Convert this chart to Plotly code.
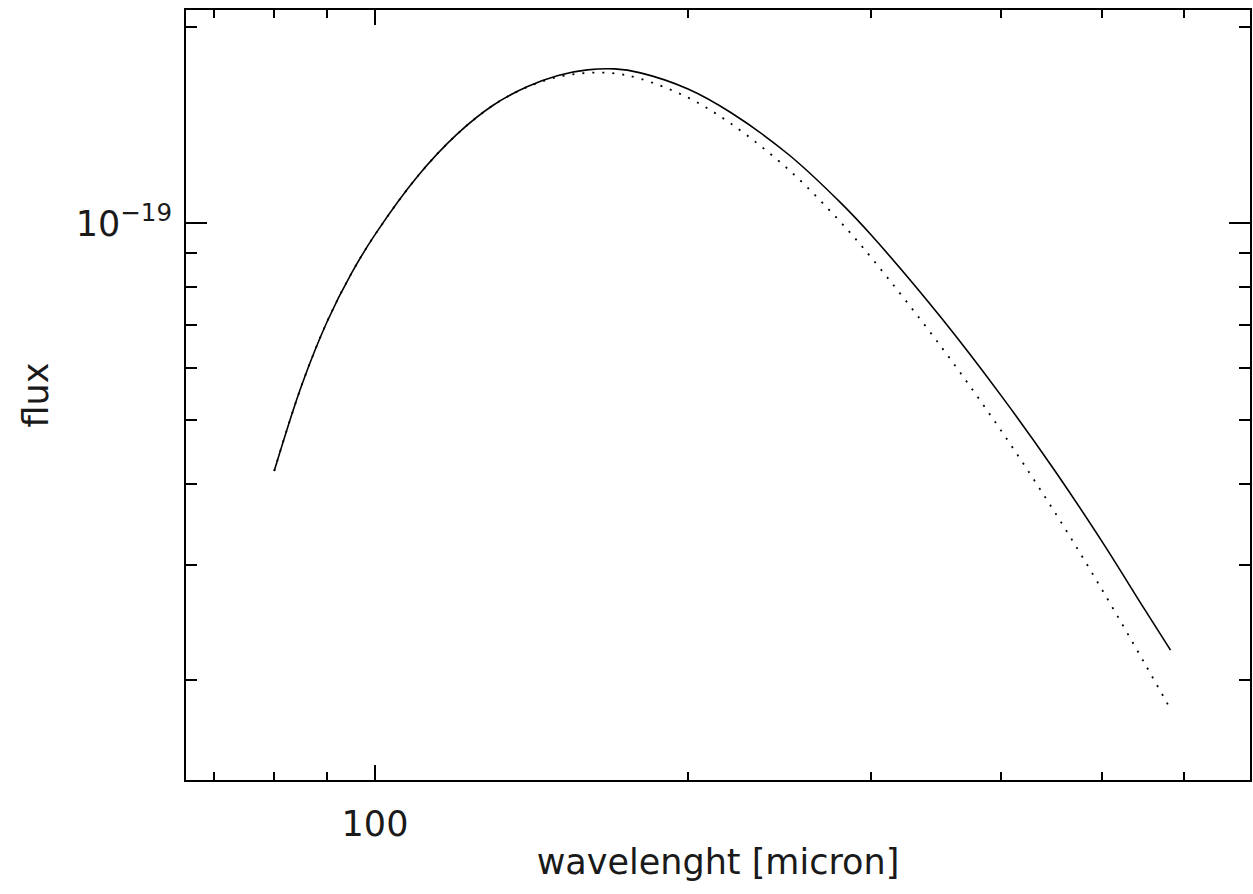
import plotly.graph_objects as go

# wavelength [micron]
wavelength = [80, 85, 90, 95, 100, 110, 120, 130, 140, 150, 160, 170, 180,
              200, 220, 250, 280, 300, 350, 400, 450, 500, 550, 582]

# solid curve
flux_solid = [4.180e-20, 5.650e-20, 7.092e-20, 8.408e-20, 9.613e-20, 1.183e-19,
              1.371e-19, 1.518e-19, 1.619e-19, 1.685e-19, 1.718e-19, 1.724e-19,
              1.700e-19, 1.606e-19, 1.477e-19, 1.274e-19, 1.078e-19, 9.600e-20,
              7.185e-20, 5.452e-20, 4.195e-20, 3.262e-20, 2.562e-20, 2.224e-20]

# dotted curve
flux_dotted = [4.180e-20, 5.650e-20, 7.092e-20, 8.408e-20, 9.613e-20, 1.183e-19,
               1.371e-19, 1.518e-19, 1.617e-19, 1.676e-19, 1.700e-19, 1.697e-19,
               1.665e-19, 1.558e-19, 1.421e-19, 1.208e-19, 1.007e-19, 8.868e-20,
               6.487e-20, 4.818e-20, 3.624e-20, 2.753e-20, 2.118e-20, 1.806e-20]

x_major = [100]
x_major_text = ["100"]
x_minor = [70, 80, 90, 200, 300, 400, 500, 600]
y_major = [1e-19]
y_major_text = ["10<sup>\u221219</sup>"]
y_minor = [2e-20, 3e-20, 4e-20, 5e-20, 6e-20, 7e-20, 8e-20, 9e-20, 2e-19]

FONT = dict(family="DejaVu Sans, sans-serif", size=35, color="#1a1a1a")

fig = go.Figure()
fig.add_trace(go.Scatter(x=wavelength, y=flux_solid, mode="lines",
                         line=dict(color="black", width=1.6, shape="spline", smoothing=1.0),
                         showlegend=False, hoverinfo="skip"))
fig.add_trace(go.Scatter(x=wavelength, y=flux_dotted, mode="lines",
                         line=dict(color="black", width=1.8, dash="2px,8px",
                                   shape="spline", smoothing=1.0),
                         showlegend=False, hoverinfo="skip"))

axis_common = dict(showline=True, linewidth=2, linecolor="black", mirror="allticks",
                   ticks="inside", tickwidth=2, tickcolor="black",
                   showgrid=False, zeroline=False, tickfont=FONT)

fig.update_xaxes(type="log", range=[1.81827, 2.84135],
                 tickmode="array", tickvals=x_major, ticktext=x_major_text, ticklen=15,
                 ticklabelstandoff=12,
                 minor=dict(tickmode="array", tickvals=x_minor, ticks="inside", ticklen=8,
                            tickwidth=2, tickcolor="black", showgrid=False),
                 title=dict(text="wavelenght [micron]", font=FONT, standoff=6),
                 **axis_common)
fig.update_yaxes(type="log", range=[-19.8517, -18.6733],
                 tickmode="array", tickvals=y_major, ticktext=y_major_text, ticklen=21,
                 ticklabelstandoff=5,
                 minor=dict(tickmode="array", tickvals=y_minor, ticks="inside", ticklen=11,
                            tickwidth=2, tickcolor="black", showgrid=False),
                 title=dict(text="flux", font=FONT, standoff=16),
                 **axis_common)

fig.update_layout(width=1253, height=894,
                  margin=dict(l=186, r=3, t=10, b=114, autoexpand=False),
                  paper_bgcolor="white", plot_bgcolor="white",
                  font=FONT)

fig.write_html("out.html")
